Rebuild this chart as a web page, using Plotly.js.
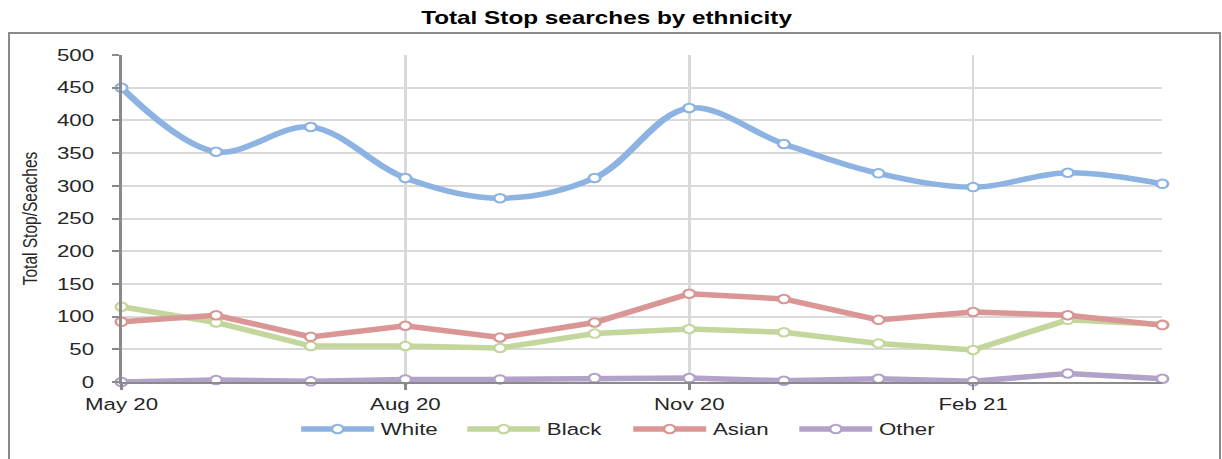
<!DOCTYPE html>
<html>
<head>
<meta charset="utf-8">
<script src="https://cdn.plot.ly/plotly-3.0.1.min.js"></script>
<style>
  html, body { margin: 0; padding: 0; background: #ffffff; }
  #wrap { position: relative; width: 1222px; height: 459px; overflow: hidden; }
  /* the chart is laid out narrower and widened horizontally to the full page */
  #chart { position: absolute; left: 0; top: 0; width: 905px; height: 459px;
           transform: scaleX(1.35); transform-origin: 0 0; }
  #frame { position: absolute; left: 8px; top: 32px; width: 1209px; height: 440px;
           border: 2px solid #8a8a8a; border-bottom: none; pointer-events: none; }
</style>
</head>
<body>
<div id="wrap">
  <div id="chart"></div>
  <div id="frame"></div>
</div>
<script>
// Monthly totals, May 2020 - April 2021
const months = ["May 20", "Jun 20", "Jul 20", "Aug 20", "Sep 20", "Oct 20",
                "Nov 20", "Dec 20", "Jan 21", "Feb 21", "Mar 21", "Apr 21"];
const white = [450, 352, 390, 312, 281, 312, 419, 364, 319, 298, 320, 303];
const black = [115, 91, 55, 55, 52, 74, 81, 76, 59, 49, 95, 88];
const asian = [92, 102, 69, 86, 68, 91, 135, 127, 95, 107, 102, 87];
const other = [0, 3, 1, 4, 4, 6, 6, 2, 5, 1, 13, 5];

// Only every third month is labelled on the axis
const tickIdx = [0, 3, 6, 9];
const tickText = tickIdx.map(i => months[i]);
const xIdx = months.map((_, i) => i);

function series(name, values, color, shape) {
  return {
    type: 'scatter',
    mode: 'lines+markers',
    name: name,
    x: xIdx,
    y: values,
    text: months,
    hovertemplate: '%{text}: %{y}<extra>' + name + '</extra>',
    cliponaxis: false,
    line: { color: color, width: 5.5, shape: shape, smoothing: 1 },
    marker: { symbol: 'circle', size: 8.5, color: '#ffffff',
              line: { color: color, width: 2 } }
  };
}

const data = [
  series('White', white, '#8db3e2', 'spline'),
  series('Black', black, '#c3d69b', 'linear'),
  series('Asian', asian, '#d99694', 'linear'),
  series('Other', other, '#b3a2c7', 'linear')
];

const font = 'Arial, "Liberation Sans", sans-serif';

const layout = {
  width: 905,
  height: 459,
  margin: { l: 90.4, r: 43.5, t: 55, b: 76.5, autoexpand: false },
  paper_bgcolor: 'rgba(0,0,0,0)',
  plot_bgcolor: '#ffffff',
  font: { family: font, color: '#262626', size: 16 },
  title: {
    text: '<b>Total Stop searches by ethnicity</b>',
    font: { family: font, size: 18, color: '#000000' },
    x: 0.466, xanchor: 'center', xref: 'paper',
    y: 0.962, yanchor: 'middle', yref: 'container'
  },
  xaxis: {
    range: [0, 11],
    tickmode: 'array',
    tickvals: tickIdx,
    ticktext: tickText,
    showgrid: true,
    gridcolor: '#d9d9d9',
    gridwidth: 2,
    zeroline: false,
    showline: true,
    linecolor: '#8a8a8a',
    linewidth: 2,
    ticks: 'outside',
    ticklen: 6,
    tickwidth: 1.5,
    tickcolor: '#8a8a8a',
    tickfont: { size: 16.5, color: '#262626' },
    fixedrange: true
  },
  yaxis: {
    range: [0, 500],
    tickmode: 'linear',
    tick0: 0,
    dtick: 50,
    showgrid: true,
    gridcolor: '#d9d9d9',
    gridwidth: 2,
    zeroline: false,
    showline: true,
    linecolor: '#8a8a8a',
    linewidth: 2,
    ticks: 'outside',
    ticklen: 5,
    tickwidth: 1.5,
    tickcolor: '#8a8a8a',
    tickfont: { size: 16.5, color: '#262626' },
    ticklabelstandoff: 10,
    title: {
      text: 'Total Stop/Seaches',
      font: { family: font, size: 15.5, color: '#262626' },
      standoff: 10
    },
    fixedrange: true
  },
  showlegend: true,
  legend: {
    orientation: 'h',
    x: (218.5 - 90.4) / 771.1, xanchor: 'left',
    y: -0.091, yanchor: 'top',
    font: { size: 16.5, color: '#262626' },
    itemwidth: 54,
    entrywidth: 54,
    entrywidthmode: 'pixels',
    traceorder: 'normal',
    bgcolor: 'rgba(0,0,0,0)'
  }
};

Plotly.newPlot('chart', data, layout, { displayModeBar: false });
</script>
</body>
</html>
